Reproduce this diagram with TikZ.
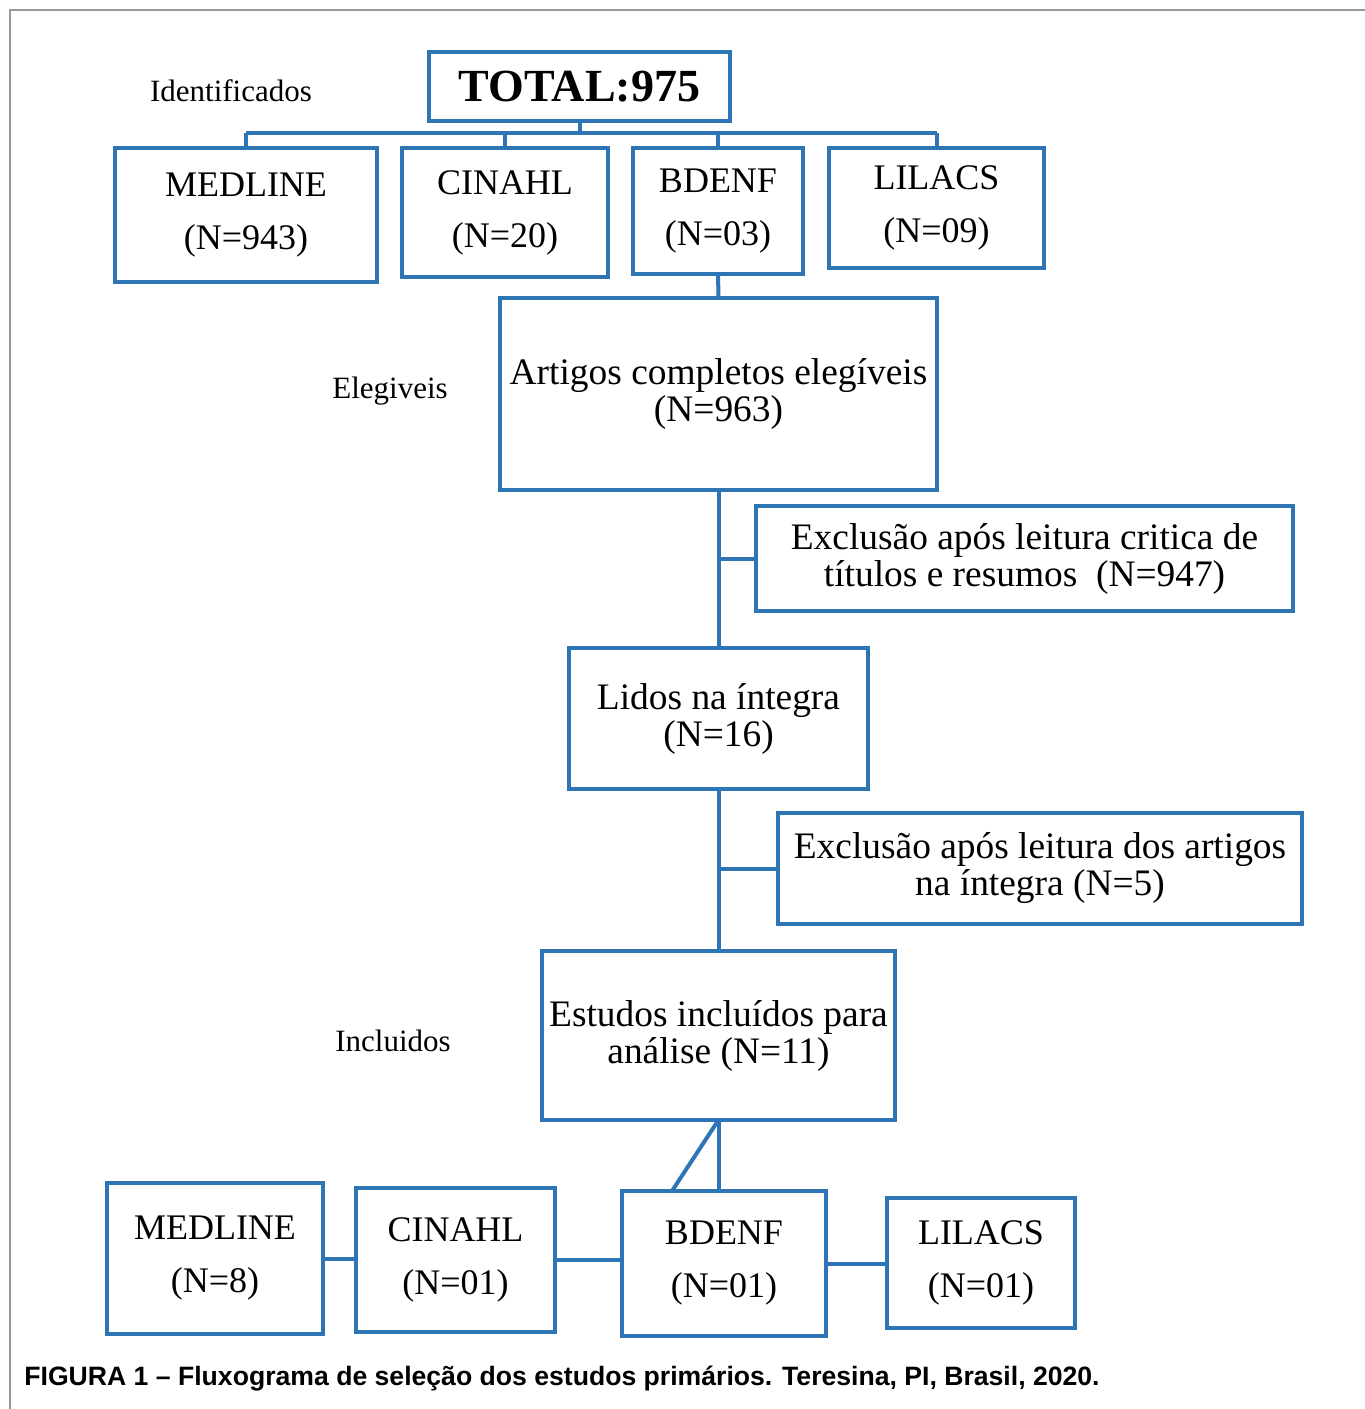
\documentclass[tikz,border=0pt]{standalone}
\usepackage{fontspec}
\setmainfont{Liberation Serif}
\newfontfamily\capfont{Liberation Sans}
\usetikzlibrary{calc}
\definecolor{boxblue}{RGB}{46,117,182}
\tikzset{
  blk/.style={draw=boxblue, line width=2pt, rectangle, inner sep=0pt, outer sep=0pt, align=center, text=black},
  db/.style={blk, font=\fontsize{18}{26.5}\selectfont, execute at begin node={\rule{0pt}{15pt}}},
  big/.style={blk, font=\fontsize{18.7}{18.5}\selectfont, execute at begin node={\rule{0pt}{17pt}}},
  lbl/.style={inner sep=0pt, font=\fontsize{15.5}{16}\selectfont},
  conn/.style={draw=boxblue, line width=2pt},
}
\begin{document}
\begin{tikzpicture}[x=0.5pt, y=-0.5pt]
\useasboundingbox (0,0) rectangle (1365,1409);
\fill[white] (0,0) rectangle (1365,1409);
\draw[gray!80, line width=1pt] (10,1409) -- (10,10) -- (1365,10);

% top level
\node[blk, font=\bfseries\fontsize{23}{24}\selectfont, minimum width=150.5pt, minimum height=34.5pt] (total) at (579.5,86.5) {TOTAL:975};
\node[db, minimum width=131pt, minimum height=67pt] (medline) at (246,215) {MEDLINE\\(N=943)};
\node[db, minimum width=103pt, minimum height=64.5pt] (cinahl) at (505,212.5) {CINAHL\\(N=20)};
\node[db, minimum width=85pt, minimum height=63pt] (bdenf) at (718,211) {BDENF\\(N=03)};
\node[db, minimum width=107.5pt, minimum height=60pt] (lilacs) at (936.5,208) {LILACS\\(N=09)};

\node[big, minimum width=218.5pt, minimum height=96pt] (artigos) at (718.5,394) {Artigos completos elegíveis\\(N=963)};
\node[big, minimum width=268.5pt, minimum height=52.5pt] (excl1) at (1024.5,558.5) {Exclusão após leitura critica de\\títulos e resumos\ \ (N=947)};
\node[big, minimum width=149.5pt, minimum height=70.5pt] (lidos) at (718.5,718.5) {Lidos na íntegra\\(N=16)};
\node[big, minimum width=262pt, minimum height=55.5pt] (excl2) at (1040,868.5) {Exclusão após leitura dos artigos\\na íntegra (N=5)};
\node[big, minimum width=176.5pt, minimum height=84.5pt] (estudos) at (718.5,1035.5) {Estudos incluídos para\\análise (N=11)};

\node[db, minimum width=108pt, minimum height=75.5pt] (medline2) at (215,1258.5) {MEDLINE\\(N=8)};
\node[db, minimum width=99.5pt, minimum height=72pt] (cinahl2) at (455.5,1260) {CINAHL\\(N=01)};
\node[db, minimum width=102pt, minimum height=72.5pt] (bdenf2) at (724,1263.5) {BDENF\\(N=01)};
\node[db, minimum width=94pt, minimum height=65pt] (lilacs2) at (981,1263) {LILACS\\(N=01)};

% side labels
\node[lbl] (lid) at (231,91) {Identificados};
\node[lbl] (lel) at (390,391) {Elegiveis};
\node[lbl] (lin) at (393,1041) {Incluidos};

% caption
\node[anchor=west, inner sep=0pt, font=\capfont\bfseries\fontsize{13.3}{14}\selectfont] (cap) at (24,1379) {FIGURA 1 – Fluxograma de seleção dos estudos primários. Teresina, PI, Brasil, 2020.};

% connectors
\coordinate (bus) at (580,133);
\draw[conn] (total.south) -- (total.south |- bus);
\draw[conn] (medline.north |- bus) -- (lilacs.north |- bus);
\draw[conn] (medline.north) -- (medline.north |- bus);
\draw[conn] (cinahl.north) -- (cinahl.north |- bus);
\draw[conn] (bdenf.north) -- (bdenf.north |- bus);
\draw[conn] (lilacs.north) -- (lilacs.north |- bus);
\draw[conn] (bdenf.south) -- (artigos.north);
\draw[conn] (artigos.south) -- (lidos.north);
\draw[conn] (artigos.south |- excl1.west) -- (excl1.west);
\draw[conn] (lidos.south) -- (estudos.north);
\draw[conn] (lidos.south |- excl2.west) -- (excl2.west);
\coordinate (dg) at ($(bdenf2.north west)!0.245!(bdenf2.north east)$);
\draw[conn] (estudos.south) -- (estudos.south |- bdenf2.north);
\draw[conn] (estudos.south) -- (dg);
\draw[conn] (medline2.east) -- (medline2.east -| cinahl2.west);
\draw[conn] (cinahl2.east) -- (cinahl2.east -| bdenf2.west);
\draw[conn] (bdenf2.east) -- (bdenf2.east -| lilacs2.west);
\end{tikzpicture}
\end{document}
